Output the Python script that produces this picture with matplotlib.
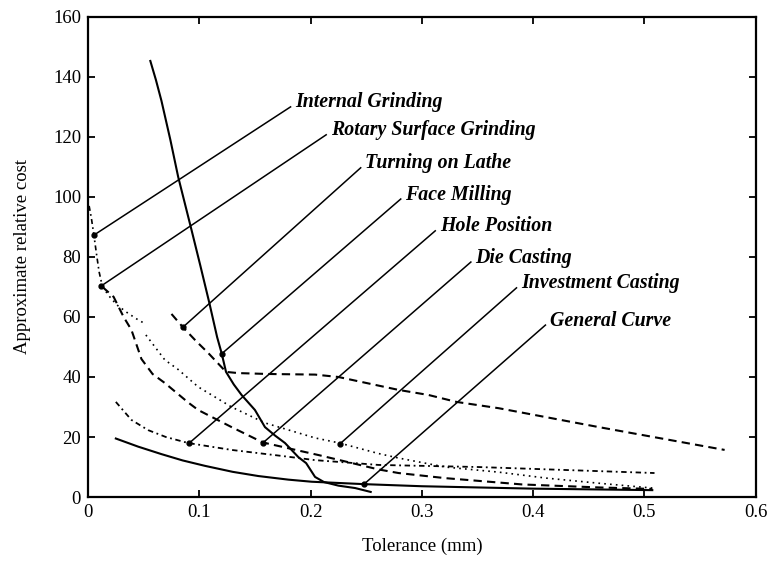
import matplotlib
matplotlib.use("Agg")
import matplotlib.pyplot as plt


# ===== Data =====
# steep solid curve
steep_x = [0.056, 0.061, 0.066, 0.074, 0.081, 0.093, 0.101, 0.109, 0.116, 0.120, 0.124,
           0.131, 0.138, 0.150, 0.159, 0.168, 0.177, 0.189, 0.196, 0.204, 0.212, 0.225,
           0.240, 0.254]
steep_y = [145.3, 139, 132, 119, 106.7, 89, 77, 64.7, 53.3, 48, 41.7,
           37.5, 34, 29, 23.3, 20.5, 18, 13.3, 11.3, 6.7, 5, 3.8,
           3, 1.7]

# low solid curve (general curve)
general_x = [0.025, 0.045, 0.066, 0.085, 0.105, 0.130, 0.153, 0.180, 0.201, 0.248, 0.300, 0.400, 0.507]
general_y = [19.5, 16.8, 14.3, 12.2, 10.4, 8.4, 7.0, 5.8, 5.1, 4.3, 3.6, 2.8, 2.3]

# grinding start (dash-dot, top left)
grind_x = [0.001, 0.003, 0.005, 0.008, 0.010, 0.013]
grind_y = [97, 93, 88, 80, 75, 70]

# dotted curve, two pieces
dot1_x = [0.013, 0.020, 0.026, 0.035, 0.043, 0.050]
dot1_y = [70, 66.5, 64, 61.5, 59.5, 58]
dot2_x = [0.052, 0.069, 0.081, 0.099, 0.129, 0.159, 0.204, 0.226, 0.261, 0.279,
          0.321, 0.369, 0.412, 0.459, 0.507]
dot2_y = [54, 45.7, 42.5, 36.7, 30, 24.7, 19.7, 18, 14.5, 13,
          10, 8.3, 6.3, 4.6, 3]

# lower dashed curve
dash_x = [0.013, 0.023, 0.032, 0.039, 0.048, 0.058, 0.069, 0.090, 0.099, 0.129, 0.157,
          0.189, 0.207, 0.261, 0.279, 0.321, 0.390, 0.459, 0.507]
dash_y = [70, 66.7, 60, 55.7, 46, 41, 38, 31.5, 29, 23.3, 18.2,
          15.5, 14, 9.2, 8, 6.3, 4.2, 3.2, 2.7]

# dash-dot curve (hole position)
hole_x = [0.025, 0.039, 0.054, 0.070, 0.090, 0.129, 0.174, 0.204, 0.261, 0.351, 0.430, 0.509]
hole_y = [31.7, 25.7, 22.3, 20, 18, 15.7, 13.7, 12.3, 10.7, 10, 9, 8]

# upper dashed curve (turning on lathe)
lathe_x = [0.075, 0.085, 0.097, 0.108, 0.124, 0.135, 0.162, 0.204, 0.225, 0.279, 0.306,
           0.331, 0.369, 0.459, 0.572]
lathe_y = [61, 56.7, 52, 48, 41.7, 41.3, 41, 40.8, 40, 35.7, 34,
           31.7, 29.6, 23.3, 15.7]

# labels with leader lines
labels = ["Internal Grinding", "Rotary Surface Grinding", "Turning on Lathe", "Face Milling",
          "Hole Position", "Die Casting", "Investment Casting", "General Curve"]
tip_x = [0.0054, 0.0117, 0.0856, 0.120, 0.091, 0.157, 0.226, 0.248]
tip_y = [87.3, 70.3, 56.7, 47.7, 18.0, 18.0, 17.6, 4.3]
end_x = [0.182, 0.214, 0.245, 0.281, 0.312, 0.344, 0.385, 0.411]
end_y = [130.0, 120.7, 109.7, 99.3, 88.7, 78.3, 69.7, 57.3]


# ===== Chart =====
plt.rcParams["font.family"] = ["Liberation Serif", "DejaVu Serif"]

fig = plt.figure(figsize=(7.72, 5.61), dpi=100)
ax = fig.add_axes([0.114, 0.114, 0.865, 0.856])

lw = 1.5
ax.plot(steep_x, steep_y, color="black", lw=lw)
ax.plot(general_x, general_y, color="black", lw=lw)
ax.plot(grind_x, grind_y, color="black", lw=1.2, dashes=(3, 2, 1, 2))
ax.plot(dot1_x, dot1_y, color="black", lw=1.2, dashes=(1, 2.5))
ax.plot(dot2_x, dot2_y, color="black", lw=1.2, dashes=(1, 2.5))
ax.plot(dash_x, dash_y, color="black", lw=lw, dashes=(4, 2.5))
ax.plot(hole_x, hole_y, color="black", lw=1.3, dashes=(3, 2, 1, 2))
ax.plot(lathe_x, lathe_y, color="black", lw=lw, dashes=(4, 2.5))

for lab, tx, ty, ex, ey in zip(labels, tip_x, tip_y, end_x, end_y):
    ax.plot([tx, ex], [ty, ey], color="black", lw=1.1)
    ax.plot(tx, ty, "o", color="black", ms=3.5)
    ax.text(ex + 0.004, ey + 1.5, lab, fontsize=14.3, style="italic", weight="bold",
            ha="left", va="center")

ax.set_xlim(0, 0.6)
ax.set_ylim(0, 160)
ax.set_xticks([0, 0.1, 0.2, 0.3, 0.4, 0.5, 0.6])
ax.set_xticklabels(["0", "0.1", "0.2", "0.3", "0.4", "0.5", "0.6"])
ax.set_yticks(range(0, 161, 20))
ax.tick_params(direction="in", top=True, right=True, length=5, width=1.3,
               labelsize=13.5, pad=5)
for s in ax.spines.values():
    s.set_linewidth(1.6)

ax.set_xlabel("Tolerance (mm)", fontsize=13.5, labelpad=12)
ax.set_ylabel("Approximate relative cost", fontsize=13.5, labelpad=16)

plt.savefig("out.png", dpi=100)
plt.close()
